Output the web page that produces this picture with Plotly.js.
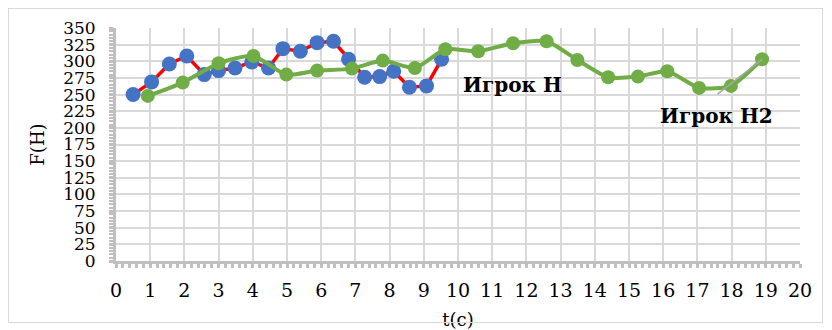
<!DOCTYPE html>
<html>
<head>
<meta charset="utf-8">
<script src="https://cdn.plot.ly/plotly-3.0.1.min.js"></script>
<style>
html,body{margin:0;padding:0;background:#fff;}
#wrap{position:relative;width:832px;height:330px;}
#chart{width:832px;height:330px;}
#frame{position:absolute;left:8px;top:8px;width:813px;height:313px;border:1.5px solid #d9d9d9;pointer-events:none;}
</style>
</head>
<body>
<div id="wrap"><div id="chart"></div><div id="frame"></div></div>
<script>
// Player H (blue markers, red line)
const tH  = [0.5, 1.04, 1.56, 2.07, 2.58, 3.0, 3.48, 3.97, 4.46, 4.88, 5.39, 5.88, 6.36, 6.8, 7.27, 7.71, 8.12, 8.58, 9.08, 9.52];
const fH  = [250, 269, 296, 308, 280, 286, 290, 299, 290, 319, 315, 328, 330, 303, 276, 277, 285, 261, 263, 303];
// Player H2 (green)
const tH2 = [0.93, 1.95, 3.0, 4.02, 4.98, 5.88, 6.9, 7.8, 8.74, 9.63, 10.59, 11.61, 12.59, 13.49, 14.39, 15.26, 16.12, 17.05, 17.98, 18.89];
const fH2 = [248, 268, 297, 308, 280, 286, 289, 301, 290, 318, 315, 327, 330, 302, 276, 277, 285, 260, 263, 303];

const labelH = 'Игрок Н';
const labelH2 = 'Игрок Н2';
const xTitle = 't(c)';
const yTitle = 'F(H)';

const serif = 'DejaVu Serif';

const traces = [
  {x: tH, y: fH, type: 'scatter', mode: 'lines+markers', name: labelH,
   line: {color: '#ff0000', width: 3.5},
   marker: {color: '#4472c4', size: 15}},
  {x: tH2, y: fH2, type: 'scatter', mode: 'lines+markers', name: labelH2,
   line: {color: '#70ad47', width: 4, shape: 'spline', smoothing: 0.6},
   marker: {color: '#70ad47', size: 14}}
];

const axisCommon = {
  showline: true, linecolor: '#bfbfbf', linewidth: 3,
  ticks: 'outside', ticklen: 4, tickwidth: 3, tickcolor: '#bfbfbf',
  showgrid: true, gridcolor: '#d9d9d9', gridwidth: 2,
  zeroline: false
};

const layout = {
  width: 832, height: 330,
  font: {family: serif, color: '#000'},
  margin: {l: 116, r: 32, t: 28, b: 69},
  paper_bgcolor: '#fff', plot_bgcolor: '#fff',
  showlegend: false,
  xaxis: Object.assign({}, axisCommon, {
    range: [0, 20], dtick: 1, tick0: 0, tickmode: 'linear',
    ticklabelstandoff: 6,
    tickfont: {family: serif, size: 19, color: '#000'},
    minor: {dtick: 0.2, ticks: 'outside', ticklen: 4, tickwidth: 3, tickcolor: '#bfbfbf', showgrid: false},
    title: {text: xTitle, font: {family: serif, size: 18, color: '#000'}, standoff: 14}
  }),
  yaxis: Object.assign({}, axisCommon, {
    range: [0, 350], dtick: 25, tick0: 0, tickmode: 'linear',
    ticklabelstandoff: 10,
    tickfont: {family: serif, size: 17, color: '#000'},
    minor: {dtick: 5, ticks: 'outside', ticklen: 4, tickwidth: 2, tickcolor: '#bfbfbf', showgrid: false},
    title: {text: yTitle, font: {family: serif, size: 18, color: '#000'}, standoff: 14}
  }),
  annotations: [
    {x: 11.6, y: 264, xref: 'x', yref: 'y', text: '<b>' + labelH + '</b>', showarrow: false,
     font: {family: serif, size: 20, color: '#000'}},
    {x: 17.55, y: 218, xref: 'x', yref: 'y', text: '<b>' + labelH2 + '</b>', showarrow: false,
     font: {family: serif, size: 20, color: '#000'}},
    {x: tH2[tH2.length - 1], y: fH2[fH2.length - 1], xref: 'x', yref: 'y', text: '',
     showarrow: true, arrowhead: 0, arrowwidth: 1.5, arrowcolor: '#a6a6a6',
     ax: -46, ay: 36, standoff: 0}
  ]
};

Plotly.newPlot('chart', traces, layout, {displayModeBar: false, staticPlot: true});
</script>
</body>
</html>
